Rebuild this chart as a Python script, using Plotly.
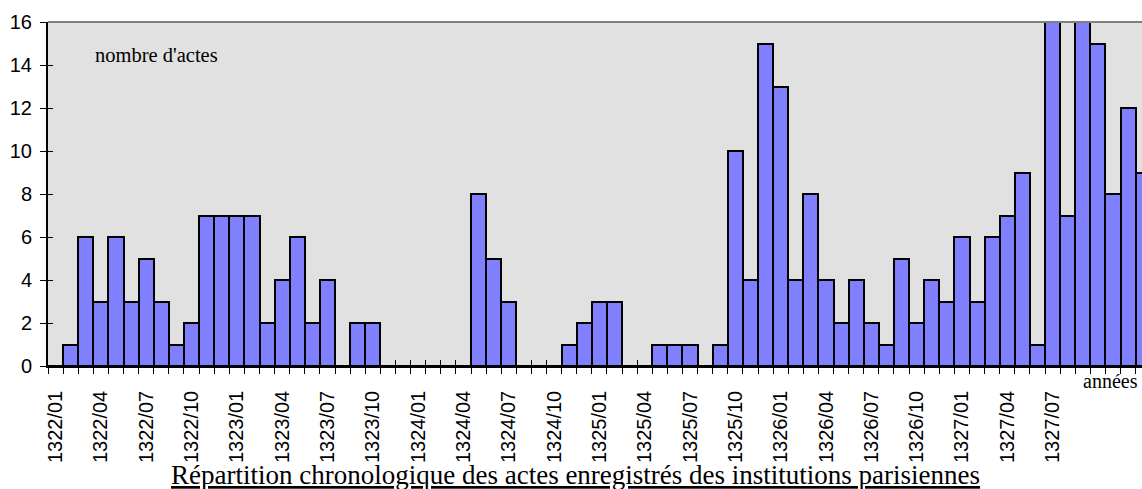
import plotly.graph_objects as go

# ---- data ----
months = [f"{y}/{m:02d}" for y in range(1322, 1328) for m in range(1, 13)] + ["1328/01"]
counts = [
    0, 1, 6, 3, 6, 3, 5, 3, 1, 2, 7, 7,      # 1322
    7, 7, 2, 4, 6, 2, 4, 0, 2, 2, 0, 0,      # 1323
    0, 0, 0, 0, 8, 5, 3, 0, 0, 0, 1, 2,      # 1324
    3, 3, 0, 0, 1, 1, 1, 0, 1, 10, 4, 15,    # 1325
    13, 4, 8, 4, 2, 4, 2, 1, 5, 2, 4, 3,     # 1326
    6, 3, 6, 7, 9, 1, 16, 7, 16, 15, 8, 12,  # 1327
    9,                                       # 1328
]
tick_labels = [months[i] for i in range(0, 67, 3)]

title_text = "Répartition chronologique des actes enregistrés des institutions parisiennes"
y_label = "nombre d'actes"
x_label = "années"

# ---- geometry (page body margin removed via post_script) ----
W, H = 1142, 489
PL, PT, PB = 48, 22, 366          # plot box in page pixels
L, T = PL, PT
B = H - PB
R = 0
px_per_cat = 15.107
plot_w = W - L - R
plot_h = H - T - B
x_range = [-0.5, -0.5 + plot_w / px_per_cat]


def px(xp):
    return (xp - PL) / plot_w


def py(yp):
    return (PB - yp) / plot_h


pos = list(range(len(months)))
label_pos = [months.index(t) for t in tick_labels]

fig = go.Figure()
fig.add_trace(go.Bar(
    x=pos, y=counts, width=1,
    marker=dict(color="#8080ff", line=dict(color="black", width=2)),
    showlegend=False, hoverinfo="skip",
))
# empty traces to materialise overlay axes for cross-style ticks
fig.add_trace(go.Scatter(x=[], y=[], xaxis="x2", yaxis="y2", showlegend=False))
fig.add_trace(go.Scatter(x=[], y=[], xaxis="x3", yaxis="y", showlegend=False))

sans = "Liberation Sans, Arial, sans-serif"
serif = "Liberation Serif, Times New Roman, serif"

fig.update_layout(
    width=W, height=H,
    margin=dict(l=L, r=R, t=T, b=B, pad=0),
    paper_bgcolor="white",
    plot_bgcolor="#e1e1e1",
    bargap=0,
    xaxis=dict(
        range=x_range, autorange=False,
        tickmode="array", tickvals=label_pos, ticktext=tick_labels,
        tickangle=-90, ticks="outside", ticklen=15, tickcolor="rgba(0,0,0,0)",
        tickfont=dict(family=sans, size=20, color="black"),
        showline=True, linecolor="black", linewidth=1.5,
        showgrid=False, zeroline=False, automargin=False,
    ),
    xaxis2=dict(
        overlaying="x", anchor="y2", range=x_range, autorange=False,
        tickmode="linear", tick0=-0.5, dtick=1,
        ticks="outside", ticklen=7, tickcolor="black", tickwidth=1,
        showticklabels=False, showline=False, showgrid=False, zeroline=False,
        automargin=False,
    ),
    xaxis3=dict(
        overlaying="x", anchor="y", range=x_range, autorange=False,
        tickmode="linear", tick0=-0.5, dtick=1,
        ticks="inside", ticklen=6, tickcolor="black", tickwidth=1,
        showticklabels=False, showline=False, showgrid=False, zeroline=False,
        automargin=False,
    ),
    yaxis=dict(
        range=[0, 16], autorange=False, tickmode="linear", tick0=0, dtick=2,
        ticks="outside", ticklen=6, tickcolor="black", tickwidth=1,
        tickfont=dict(family=sans, size=20, color="black"),
        ticklabelstandoff=4,
        showline=True, linecolor="black", linewidth=2,
        showgrid=False, zeroline=False, automargin=False,
    ),
    yaxis2=dict(
        overlaying="y", anchor="x", range=[0, 16], autorange=False,
        tickmode="linear", tick0=0, dtick=2,
        ticks="inside", ticklen=5, tickcolor="black", tickwidth=1,
        showticklabels=False, showline=False, showgrid=False, zeroline=False,
        automargin=False,
    ),
    shapes=[dict(type="line", xref="paper", yref="paper", x0=0, x1=1, y0=1, y1=1,
                 line=dict(color="#808080", width=2))],
    annotations=[
        dict(text=y_label, xref="paper", yref="paper",
             x=px(93), y=py(55),
             xanchor="left", yanchor="middle", showarrow=False,
             font=dict(family=serif, size=20.5, color="black")),
        dict(text=x_label, xref="paper", yref="paper",
             x=px(1140), y=py(381),
             xanchor="right", yanchor="middle", showarrow=False,
             font=dict(family=serif, size=20, color="black")),
        dict(text="<u>" + title_text + "</u>", xref="paper", yref="paper",
             x=px(575), y=py(475),
             xanchor="center", yanchor="middle", showarrow=False,
             font=dict(family=serif, size=27, color="black")),
    ],
)

fig.write_html(
    "out.html",
    config={"displayModeBar": False},
    post_script="document.body.style.margin='0';document.body.style.overflow='hidden';",
)
